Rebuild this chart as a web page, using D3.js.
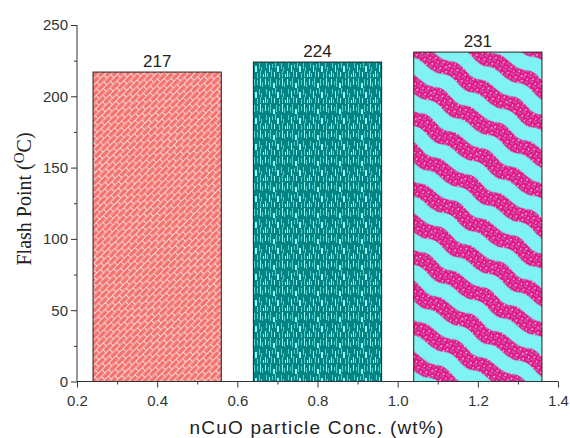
<!DOCTYPE html>
<html>
<head>
<meta charset="utf-8">
<script src="https://cdn.jsdelivr.net/npm/d3@7"></script>
<style>
  body { margin: 0; background: #fff; }
  svg { display: block; }
</style>
</head>
<body>
<svg id="chart" width="570" height="438"></svg>
<script>
// chart data
const conc = [0.4, 0.8, 1.2]
const flashPoint = [217, 224, 231]
const barFills = ['url(#brick)', 'url(#dashes)', 'url(#waves)']
const xTicks = [0.2, 0.4, 0.6, 0.8, 1.0, 1.2, 1.4]
const xMinor = [0.3, 0.5, 0.7, 0.9, 1.1, 1.3]
const yTicks = [0, 50, 100, 150, 200, 250]
const yMinor = [25, 75, 125, 175, 225]
const barWidth = 0.32

var svg = d3.select('#chart')
var defs = svg.append('defs')

// salmon brick pattern
var brick = defs.append('pattern')
  .attr('id', 'brick')
  .attr('patternUnits', 'userSpaceOnUse')
  .attr('width', 10).attr('height', 9)
  .attr('patternTransform', 'rotate(-45)')
brick.append('rect').attr('width', 10).attr('height', 9).attr('fill', '#f8726d')
brick.append('path')
  .attr('d', 'M0,0.5H10M0,5H10M0.5,0.5V5M5.5,5V9.5')
  .attr('stroke', '#eadada').attr('stroke-width', 1).attr('fill', 'none')

// teal with light vertical dashes
var dashes = defs.append('pattern')
  .attr('id', 'dashes')
  .attr('patternUnits', 'userSpaceOnUse')
  .attr('width', 22).attr('height', 26)
dashes.append('rect').attr('width', 22).attr('height', 26).attr('fill', '#038383')
var dashList = [
  [1, 1, 1, 6], [4, 3, 1, 4], [6, 0, 1, 9], [9, 5, 2, 5], [12, 1, 1, 7], [15, 2, 1, 5],
  [18, 0, 1, 8], [20, 4, 1, 5], [2, 11, 1, 5], [5, 13, 1, 7], [8, 12, 1, 4], [11, 10, 1, 6],
  [13, 14, 2, 6], [17, 11, 1, 6], [19, 15, 1, 4], [1, 19, 1, 6], [3, 21, 1, 4], [7, 18, 1, 7],
  [10, 20, 1, 5], [15, 21, 1, 5], [18, 19, 1, 6], [21, 22, 1, 3]
]
dashes.selectAll('rect.d').data(dashList).enter().append('rect')
  .attr('class', 'd')
  .attr('x', d => d[0]).attr('y', d => d[1])
  .attr('width', d => d[2]).attr('height', d => d[3])
  .attr('fill', (d, i) => i % 3 === 0 ? '#9af6f0' : '#4fd3cf')

// texture inside magenta waves
var tex = defs.append('pattern')
  .attr('id', 'tex')
  .attr('patternUnits', 'userSpaceOnUse')
  .attr('width', 9).attr('height', 7)
tex.append('rect').attr('width', 9).attr('height', 7).attr('fill', '#ee1288')
tex.append('rect').attr('x', 0).attr('y', 0).attr('width', 4).attr('height', 2).attr('fill', '#b45aa8')
tex.append('rect').attr('x', 5).attr('y', 3).attr('width', 4).attr('height', 2).attr('fill', '#b45aa8')
tex.append('rect').attr('x', 1).attr('y', 5).attr('width', 2).attr('height', 1).attr('fill', '#c98fc4')
tex.append('rect').attr('x', 2).attr('y', 4).attr('width', 1).attr('height', 2).attr('fill', '#f4c8e4')
tex.append('rect').attr('x', 6).attr('y', 0).attr('width', 1).attr('height', 2).attr('fill', '#f4c8e4')

// cyan with wavy magenta bands
var waves = defs.append('pattern')
  .attr('id', 'waves')
  .attr('patternUnits', 'userSpaceOnUse')
  .attr('width', 70).attr('height', 30)
  .attr('patternTransform', 'rotate(30)')
waves.append('rect').attr('width', 70).attr('height', 30).attr('fill', '#7ff3f3')
waves.append('path')
  .attr('d', 'M0,8 C14,1 22,15 35,9 C47,3 56,14 70,8 L70,23 C56,29 47,18 35,24 C22,30 14,16 0,23 Z')
  .attr('fill', 'url(#tex)')

var x = d3.scaleLinear().domain([0.2, 1.4]).range([77, 558])
var y = d3.scaleLinear().domain([0, 250]).range([381.5, 25])

// bars
var bars = flashPoint.map((v, i) => ({ c: conc[i], v: v, fill: barFills[i] }))
svg.selectAll('rect.bar').data(bars).enter().append('rect')
  .attr('class', 'bar')
  .attr('x', d => x(d.c - barWidth / 2))
  .attr('width', d => x(d.c + barWidth / 2) - x(d.c - barWidth / 2))
  .attr('y', d => y(d.v))
  .attr('height', d => y(0) - y(d.v))
  .attr('fill', d => d.fill)
  .attr('stroke', '#222').attr('stroke-width', 1)

svg.selectAll('text.val').data(bars).enter().append('text')
  .attr('class', 'val')
  .attr('x', d => x(d.c))
  .attr('y', d => y(d.v) - 5)
  .attr('text-anchor', 'middle')
  .attr('style', 'font-family: "Liberation Sans", Arial, sans-serif; font-size: 17px; fill: #222;')
  .text(d => d.v)

// axes
var xAxis = svg.append('g')
  .attr('transform', 'translate(0,' + y(0) + ')')
  .call(d3.axisBottom(x).tickValues(xTicks).tickSize(6).tickFormat(d3.format('.1f')))
svg.append('g')
  .attr('transform', 'translate(0,' + y(0) + ')')
  .call(d3.axisBottom(x).tickValues(xMinor).tickSize(3).tickFormat(''))
  .call(g => g.select('.domain').remove())

var yAxis = svg.append('g')
  .attr('transform', 'translate(' + x(0.2) + ',0)')
  .call(d3.axisLeft(y).tickValues(yTicks).tickSize(6))
svg.append('g')
  .attr('transform', 'translate(' + x(0.2) + ',0)')
  .call(d3.axisLeft(y).tickValues(yMinor).tickSize(3).tickFormat(''))
  .call(g => g.select('.domain').remove())

xAxis.select('.domain').attr('d', 'M' + x(0.2) + ',0H' + x(1.4))
yAxis.select('.domain').attr('d', 'M0,' + y(0) + 'V' + y(250))
svg.selectAll('.domain, .tick line').attr('stroke', '#333')
svg.selectAll('.tick text')
  .attr('fill', '#333')
  .attr('font-family', '"Liberation Sans", Arial, sans-serif')
  .attr('font-size', 15)
xAxis.selectAll('.tick text').attr('dy', '1.05em')
yAxis.selectAll('.tick text').attr('x', -9)

// axis titles
svg.append('text')
  .attr('x', 317).attr('y', 434)
  .attr('text-anchor', 'middle')
  .attr('style', 'font-family: "Liberation Sans", Arial, sans-serif; font-size: 19px; letter-spacing: 1.2px; fill: #222;')
  .text('nCuO particle Conc. (wt%)')

var yt = svg.append('text')
  .attr('transform', 'translate(31,199) rotate(-90)')
  .attr('text-anchor', 'middle')
  .attr('style', 'font-family: "Liberation Serif", "Times New Roman", serif; font-size: 20px; fill: #222;')
yt.append('tspan').text('Flash Point (')
yt.append('tspan').attr('dy', -7).attr('font-size', 15).text('O')
yt.append('tspan').attr('dy', 7).text('C)')
</script>
</body>
</html>
